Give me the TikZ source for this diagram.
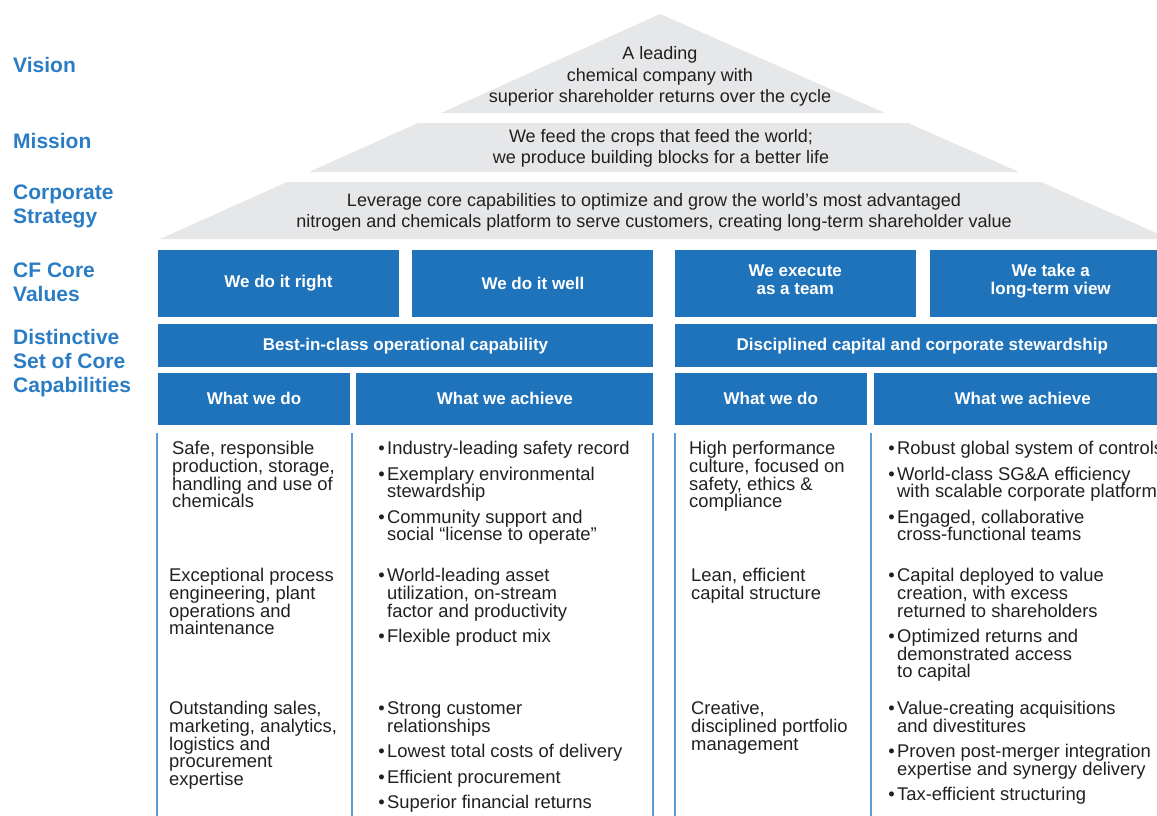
\documentclass[tikz,border=0pt]{standalone}
\usepackage{fontspec}
\setmainfont{Liberation Sans}
\usetikzlibrary{positioning}
\definecolor{cfblue}{HTML}{1F73BA}
\definecolor{cflabel}{HTML}{2A7DC4}
\definecolor{roofgray}{HTML}{E6E7E8}
\definecolor{rulecol}{HTML}{5A9AD5}
\definecolor{bodytext}{HTML}{231F20}
\newcommand\cfbul{\makebox[0pt][r]{\textbullet\hspace{2.5pt}}}
\newcommand\cfup{\rule{0pt}{13.4pt}}
\newcommand\cfdn{\rule[-5.3pt]{0pt}{5.3pt}}
\newcommand\cflow{\rule[-8pt]{0pt}{0pt}}
\newcommand\cfbodyfont{\fontsize{18.4}{17.7}\selectfont\setlength{\lineskiplimit}{-20pt}}
\tikzset{
  roof/.style={fill=roofgray},
  rooftext/.style={inner sep=0pt, align=center, text=bodytext, font=\fontsize{18}{21.5}\selectfont},
  lvl/.style={anchor=north west, inner sep=0pt, align=left, text=cflabel, font=\bfseries\fontsize{21}{24}\selectfont},
  bluebox/.style={fill=cfblue, text=white, inner sep=0pt, align=center, font=\bfseries\fontsize{17}{18}\selectfont},
  valbox/.style={bluebox, minimum width=241pt, minimum height=67pt},
  capbox/.style={bluebox, minimum width=495pt, minimum height=43pt},
  dobox/.style={bluebox, minimum width=192pt, minimum height=52pt},
  getbox/.style={bluebox, minimum width=297pt, minimum height=52pt},
  bodytxt/.style={anchor=north west, inner sep=0pt, align=left, text=bodytext, font=\cfbodyfont},
  colrule/.style={draw=rulecol, line width=1.3pt}
}
\begin{document}
\begin{tikzpicture}[x=1pt,y=-1pt]
		%%%%% START %%%%%
		\clip (0,0) rectangle (1157,816);
		
		% roof: vision, mission, strategy
		\fill[roof] (441,113) -- (660,14) -- (885,113) -- cycle;
		\fill[roof] (309,172) -- (418,123) -- (908,123) -- (1019,172) -- cycle;
		\fill[roof] (160,239) -- (287,182) -- (1041,182) -- (1170,239) -- cycle;
		
		\node[rooftext] (vis) at (660,77) {\strut A leading\\chemical company with\\superior shareholder returns over the cycle\strut};
		\node[rooftext] (mis) at (661,148.5) {\strut We feed the crops that feed the world;\\we produce building blocks for a better life\strut};
		\node[rooftext] (strat) at (654,212.5) {\strut Leverage core capabilities to optimize and grow the world's most advantaged\\nitrogen and chemicals platform to serve customers, creating long-term shareholder value\strut};
		
		% level names
		\node[lvl] (lvis) at (13,55.5) {\strut Vision};
		\node[lvl] (lmis) at (13,131) {\strut Mission};
		\node[lvl] (lstrat) at (13,182) {\strut Corporate\\Strategy};
		\node[lvl] (lval) at (13,260.5) {\strut CF Core\\Values};
		\node[lvl] (lcap) at (13,327.5) {\strut Distinctive\\Set of Core\\Capabilities};
		
		% values
		\node[valbox] (v1) at (278.5,283.5) {We do it right};
		\node[valbox, right=13pt of v1] (v2) {We do it well};
		\node[valbox, right=21pt of v2] (v3) {We execute\\as a team\cflow};
		\node[valbox, right=14pt of v3] (v4) {We take a\\long-term view\cflow};
		
		% capabilities
		\node[capbox, below right=7pt and 0pt of v1.south west] (cap1) {Best-in-class operational capability};
		\node[capbox, below right=7pt and 0pt of v3.south west] (cap2) {Disciplined capital and corporate stewardship};
		\node[dobox, below right=5pt and 0pt of cap1.south west] (h1) {What we do};
		\node[getbox, right=6pt of h1] (h2) {What we achieve};
		\node[dobox, below right=5pt and 0pt of cap2.south west] (h3) {What we do};
		\node[getbox, right=7pt of h3] (h4) {What we achieve};
		
		\foreach \x in {157,352,653,675,871}
			\draw[colrule] (\x,433) -- (\x,816);
		
		% operational: what we do
		\node[bodytxt] (d1) at (172,441) {\cfup Safe, responsible\\production, storage,\\handling and use of\\chemicals\cfdn};
		\node[bodytxt] (d2) at (169,568) {\cfup Exceptional process\\engineering, plant\\operations and\\maintenance\cfdn};
		\node[bodytxt] (d3) at (169,701) {\cfup Outstanding sales,\\marketing, analytics,\\logistics and\\procurement\\expertise\cfdn};
		
		% operational: what we achieve
		\node[bodytxt] (a1) at (387,441) {\cfbul\cfup Industry-leading safety record\cfdn};
		\node[bodytxt, below=6.3pt of a1.south west, anchor=north west] (a2) {\cfbul\cfup Exemplary environmental\\stewardship\cfdn};
		\node[bodytxt, below=6.3pt of a2.south west, anchor=north west] (a3) {\cfbul\cfup Community support and\\social ``license to operate''\cfdn};
		\node[bodytxt] (a4) at (387,568) {\cfbul\cfup World-leading asset\\utilization, on-stream\\factor and productivity\cfdn};
		\node[bodytxt, below=6.3pt of a4.south west, anchor=north west] (a5) {\cfbul\cfup Flexible product mix\cfdn};
		\node[bodytxt] (a6) at (387,701) {\cfbul\cfup Strong customer\\relationships\cfdn};
		\node[bodytxt, below=6.3pt of a6.south west, anchor=north west] (a7) {\cfbul\cfup Lowest total costs of delivery\cfdn};
		\node[bodytxt, below=6.3pt of a7.south west, anchor=north west] (a8) {\cfbul\cfup Efficient procurement\cfdn};
		\node[bodytxt, below=6.3pt of a8.south west, anchor=north west] (a9) {\cfbul\cfup Superior financial returns\cfdn};
		
		% stewardship: what we do
		\node[bodytxt] (e1) at (689,441) {\cfup High performance\\culture, focused on\\safety, ethics \&\\compliance\cfdn};
		\node[bodytxt] (e2) at (691,568) {\cfup Lean, efficient\\capital structure\cfdn};
		\node[bodytxt] (e3) at (691,701) {\cfup Creative,\\disciplined portfolio\\management\cfdn};
		
		% stewardship: what we achieve
		\node[bodytxt] (b1) at (897,441) {\cfbul\cfup Robust global system of controls\cfdn};
		\node[bodytxt, below=6.3pt of b1.south west, anchor=north west] (b2) {\cfbul\cfup World-class SG\&A efficiency\\with scalable corporate platform\cfdn};
		\node[bodytxt, below=6.3pt of b2.south west, anchor=north west] (b3) {\cfbul\cfup Engaged, collaborative\\cross-functional teams\cfdn};
		\node[bodytxt] (b4) at (897,568) {\cfbul\cfup Capital deployed to value\\creation, with excess\\returned to shareholders\cfdn};
		\node[bodytxt, below=6.3pt of b4.south west, anchor=north west] (b5) {\cfbul\cfup Optimized returns and\\demonstrated access\\to capital\cfdn};
		\node[bodytxt] (b6) at (897,701) {\cfbul\cfup Value-creating acquisitions\\and divestitures\cfdn};
		\node[bodytxt, below=6.3pt of b6.south west, anchor=north west] (b7) {\cfbul\cfup Proven post-merger integration\\expertise and synergy delivery\cfdn};
		\node[bodytxt, below=6.3pt of b7.south west, anchor=north west] (b8) {\cfbul\cfup Tax-efficient structuring\cfdn};
		%%%%% END %%%%%
	\end{tikzpicture}
\end{document}
